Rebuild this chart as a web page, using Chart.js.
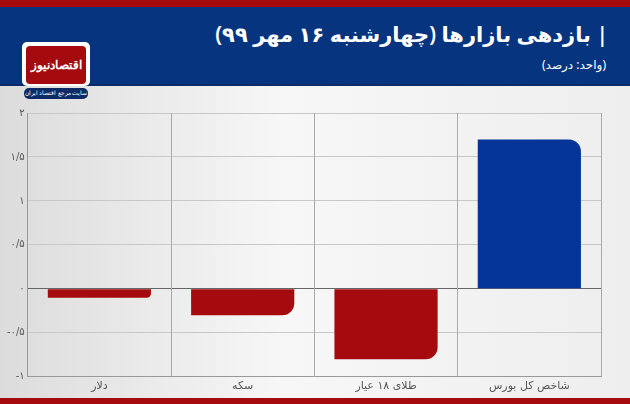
<!DOCTYPE html>
<html><head><meta charset="utf-8">
<script src="https://cdn.jsdelivr.net/npm/chart.js@4"></script>
<style>
body{margin:0;width:630px;height:404px;overflow:hidden;font-family:"DejaVu Sans","Noto Sans",sans-serif;background:linear-gradient(90deg,#dcdcdc,#f7f7f7 45%,#eeeeee);position:relative}
#top{position:absolute;left:0;top:0;width:630px;height:7px;background:#a50b0e}
#hdr{position:absolute;left:0;top:7px;width:630px;height:77px;background:#06347f;border-bottom:2px solid #0b2a66}
#bot{position:absolute;left:0;top:398px;width:630px;height:6px;background:#a50b0e}
#title{position:absolute;right:22px;top:20px;color:#fff;font-size:21px;font-weight:600;direction:rtl;white-space:nowrap;font-family:"Noto Sans","DejaVu Sans"}
#sub{position:absolute;right:24px;top:56px;color:#fff;font-size:12px;direction:rtl;font-family:"Noto Sans","DejaVu Sans"}
#logo{position:absolute;left:22px;top:42px;width:68px;height:44px;background:#fff;border-radius:5px}
#logo div{position:absolute;left:4px;top:4px;width:60px;height:38px;background:#a50b0e;border-radius:4px;color:#fff;font-size:12px;font-weight:bold;text-align:center;line-height:38px;direction:rtl;white-space:nowrap;font-family:"Noto Sans"}
#tag{position:absolute;left:24px;top:88px;width:64px;height:11px;background:#0b2a66;border-radius:5px;color:#fff;font-size:6px;text-align:center;line-height:11px;direction:rtl;white-space:nowrap;font-family:"Noto Sans"}
#wrap{position:absolute;left:0;top:104px;width:630px;height:292px}
</style></head><body>
<div id="top"></div><div id="hdr"></div><div id="bot"></div>
<div id="title">| بازدهی بازارها (چهارشنبه ۱۶ مهر ۹۹)</div>
<div id="sub">(واحد: درصد)</div>
<div id="logo"><div>اقتصادنیوز</div></div>
<div id="tag">سایت مرجع اقتصاد ایران</div>
<div id="wrap"><canvas id="c"></canvas></div>
<script>
const categories=["دلار","سکه","طلای ۱۸ عیار","شاخص کل بورس"];
const values=[-0.1,-0.3,-0.8,1.7];
const colors=["#a50b0e","#a50b0e","#a50b0e","#06359a"];
const fa=s=>String(s).replace(/\d/g,d=>"۰۱۲۳۴۵۶۷۸۹"[d]).replace(".","/");
new Chart(document.getElementById("c"),{type:"bar",
data:{labels:categories,datasets:[{data:values,backgroundColor:colors,borderRadius:{topLeft:0,topRight:12,bottomLeft:0,bottomRight:12},borderSkipped:"start",barPercentage:0.72,categoryPercentage:1}]},
options:{responsive:true,maintainAspectRatio:false,animation:false,
layout:{padding:{left:4,right:29,top:5,bottom:0}},
plugins:{legend:{display:false},tooltip:{enabled:false}},
scales:{y:{min:-1,max:2,ticks:{stepSize:0.5,color:"#555",font:{size:10,family:"DejaVu Sans"},callback:v=>fa(v)},
grid:{color:c=>c.tick.value===0?"#666":"#c8c8c8",drawTicks:false},border:{color:"#999"}},
x:{ticks:{color:"#555",font:{size:11,family:"DejaVu Sans"}},grid:{color:"#aaa",offset:true,drawTicks:false},border:{color:"#999"}}}}});
</script></body></html>
